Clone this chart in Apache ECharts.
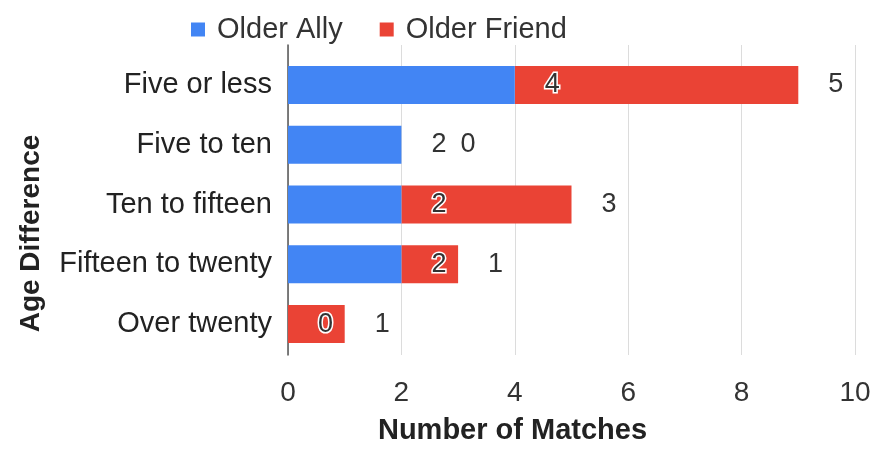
<!DOCTYPE html>
<html>
<head>
<meta charset="utf-8">
<script src="https://cdn.jsdelivr.net/npm/echarts@6/dist/echarts.min.js"></script>
<style>
  html, body { margin: 0; padding: 0; background: #fff; }
  #chart { width: 874px; height: 450px; }
</style>
</head>
<body>
<div id="chart"></div>
<script>
// Age-difference buckets and match counts per pairing type
const categories = ['Five or less', 'Five to ten', 'Ten to fifteen', 'Fifteen to twenty', 'Over twenty'];
const olderAlly = [4, 2, 2, 2, 0];
const olderFriend = [5, 0, 3, 1, 1];
const seriesNames = ['Older Ally', 'Older Friend'];
const xMin = 0, xMax = 10, xStep = 2;

const FONT = '"Liberation Sans", Arial, sans-serif';
const chart = echarts.init(document.getElementById('chart'));

chart.setOption({
  backgroundColor: '#fff',
  textStyle: { fontFamily: FONT },
  color: ['#4285F4', '#EA4335'],
  legend: {
    data: seriesNames,
    left: 186,
    top: 10,
    icon: 'rect',
    itemWidth: 14,
    itemHeight: 14,
    itemGap: 37,
    textStyle: { fontSize: 29, color: '#333', fontFamily: FONT, padding: [0, 0, 0, 7] }
  },
  grid: [
    // plotting area for the bars
    { left: 288, right: 19, top: 55, bottom: 96 },
    // slightly taller frame carrying gridlines, axis line and tick labels
    { left: 288, right: 19, top: 45, bottom: 85 }
  ],
  xAxis: [
    { gridIndex: 0, type: 'value', min: xMin, max: xMax, interval: xStep, show: false },
    {
      gridIndex: 1, type: 'value', min: xMin, max: xMax, interval: xStep,
      axisLine: { show: false }, axisTick: { show: false },
      splitLine: { show: true, lineStyle: { color: '#dcdcdc', width: 1 } },
      axisLabel: { fontSize: 28, color: '#333', margin: 24, fontFamily: FONT },
      name: 'Number of Matches',
      nameLocation: 'middle',
      nameGap: 61,
      nameTextStyle: { fontSize: 29, fontWeight: 'bold', color: '#222', fontFamily: FONT, padding: [0, 118, 0, 0] }
    }
  ],
  yAxis: [
    {
      gridIndex: 0, type: 'category', data: categories, inverse: true,
      axisLine: { show: false }, axisTick: { show: false },
      axisLabel: { fontSize: 29, color: '#222', margin: 16, fontFamily: FONT, padding: [4, 0, 0, 0] },
      name: 'Age Difference',
      nameLocation: 'middle',
      nameRotate: 90,
      nameGap: 243,
      nameTextStyle: { fontSize: 28, fontWeight: 'bold', color: '#222', fontFamily: FONT, padding: [0, 58, 0, 0] }
    },
    {
      gridIndex: 1, type: 'value', min: 0, max: 1,
      axisLine: { show: true, lineStyle: { color: '#555', width: 1.5 } },
      axisTick: { show: false }, axisLabel: { show: false }, splitLine: { show: false }
    }
  ],
  series: [
    {
      name: seriesNames[0], type: 'bar', stack: 'total', data: olderAlly,
      xAxisIndex: 0, yAxisIndex: 0, barWidth: 38,
      label: {
        show: true, position: 'right', distance: 30,
        fontSize: 27, color: '#333', fontFamily: FONT,
        textBorderColor: '#fff', textBorderWidth: 3
      },
      z: 3
    },
    {
      name: seriesNames[1], type: 'bar', stack: 'total', data: olderFriend,
      xAxisIndex: 0, yAxisIndex: 0, barWidth: 38,
      label: {
        show: true, position: 'right', distance: 30,
        fontSize: 27, color: '#333', fontFamily: FONT
      },
      // keep an empty segment's label clear of the neighbouring label
      labelLayout: function (p) {
        return olderFriend[p.dataIndex] === 0 ? { dx: 29 } : {};
      },
      z: 2
    }
  ]
});
</script>
</body>
</html>
